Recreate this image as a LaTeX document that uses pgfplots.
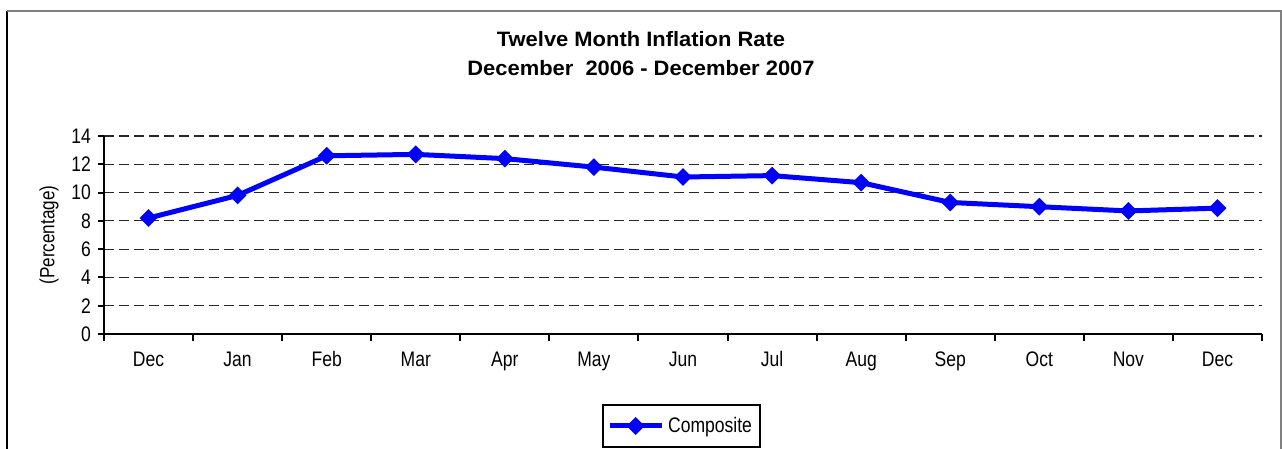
\documentclass[border=0pt]{standalone}
\usepackage{pgfplots}
\pgfplotsset{compat=1.18}
\usepackage{fontspec}
\setmainfont{Liberation Sans}
\definecolor{lineblue}{RGB}{0,0,255}
\newcommand\sy[1]{\scalebox{1}[1.2]{#1}}
\begin{document}
\begin{tikzpicture}
\useasboundingbox (0,0) rectangle (641bp,224.5bp);
\fill[white] (0,0) rectangle (641bp,224.5bp);
\draw[black, line width=0.8bp] (3.5bp,0) -- (3.5bp,219bp);
\draw[black!50, line width=1.2bp] (3.5bp,219bp) -- (640.5bp,219bp) -- (640.5bp,0);
\node[anchor=base, font=\fontsize{11}{12}\selectfont\bfseries] at (320.5bp,201bp) {\scalebox{1}[0.95]{Twelve Month Inflation Rate}};
\node[anchor=base, font=\fontsize{11}{12}\selectfont\bfseries] at (320.5bp,186.5bp) {\scalebox{1}[0.95]{December\ \ 2006 - December 2007}};
\begin{axis}[
  at={(52bp,57.5bp)}, anchor=south west,
  scale only axis, width=579bp, height=99bp,
  xmin=-0.5, xmax=12.5, ymin=0, ymax=14,
  axis lines*=left,
  axis line style={line width=1bp, black},
  xtick={0,...,12},
  xticklabels={\sy{Dec},\sy{Jan},\sy{Feb},\sy{Mar},\sy{Apr},\sy{May},\sy{Jun},\sy{Jul},\sy{Aug},\sy{Sep},\sy{Oct},\sy{Nov},\sy{Dec}},
  major x tick style={draw=none},
  minor xtick={-0.5,0.5,...,12.5},
  minor x tick style={line width=1bp, black},
  minor tick length=3.5bp,
  ytick={0,2,...,14},
  yticklabel={\sy{\pgfmathprintnumber{\tick}}},
  major y tick style={line width=1bp, black},
  major tick length=3bp,
  tick align=outside,
  ymajorgrids,
  major grid style={black!85, line width=0.6bp, dash pattern=on 5bp off 2.5bp},
  tick label style={font=\fontsize{8.8}{10}\selectfont},
  /pgf/number format/assume math mode=true,
  xticklabel style={anchor=base, yshift=-13.5bp, inner sep=0pt},
  ylabel={\sy{(Percentage)}},
  ylabel style={at={(axis description cs:-0.0475,0.5)}, anchor=center, font=\fontsize{8.6}{10}\selectfont},
  legend style={at={(axis description cs:0.4987,-0.4646)}, anchor=center, draw=black, line width=1bp, font=\fontsize{8.8}{10}\selectfont, inner xsep=2bp, inner ysep=4bp, row sep=0pt},
  legend image code/.code={
    \draw[#1, line width=2.5bp] (0bp,0bp) -- (26bp,0bp);
    \draw[#1, mark repeat=2, mark phase=2] plot coordinates {(0bp,0bp) (13bp,0bp) (26bp,0bp)};
  },
]
\addplot[color=lineblue, line width=2.5bp, mark=square*, mark size=1.9bp, mark options={rotate=45, solid, fill=lineblue}]
  coordinates {
  (0,8.2) (1,9.8) (2,12.6) (3,12.7) (4,12.4) (5,11.8) (6,11.1)
  (7,11.2) (8,10.7) (9,9.3) (10,9.0) (11,8.7) (12,8.9)
  };
\addlegendentry{\sy{Composite}}
\end{axis}
\end{tikzpicture}
\end{document}
